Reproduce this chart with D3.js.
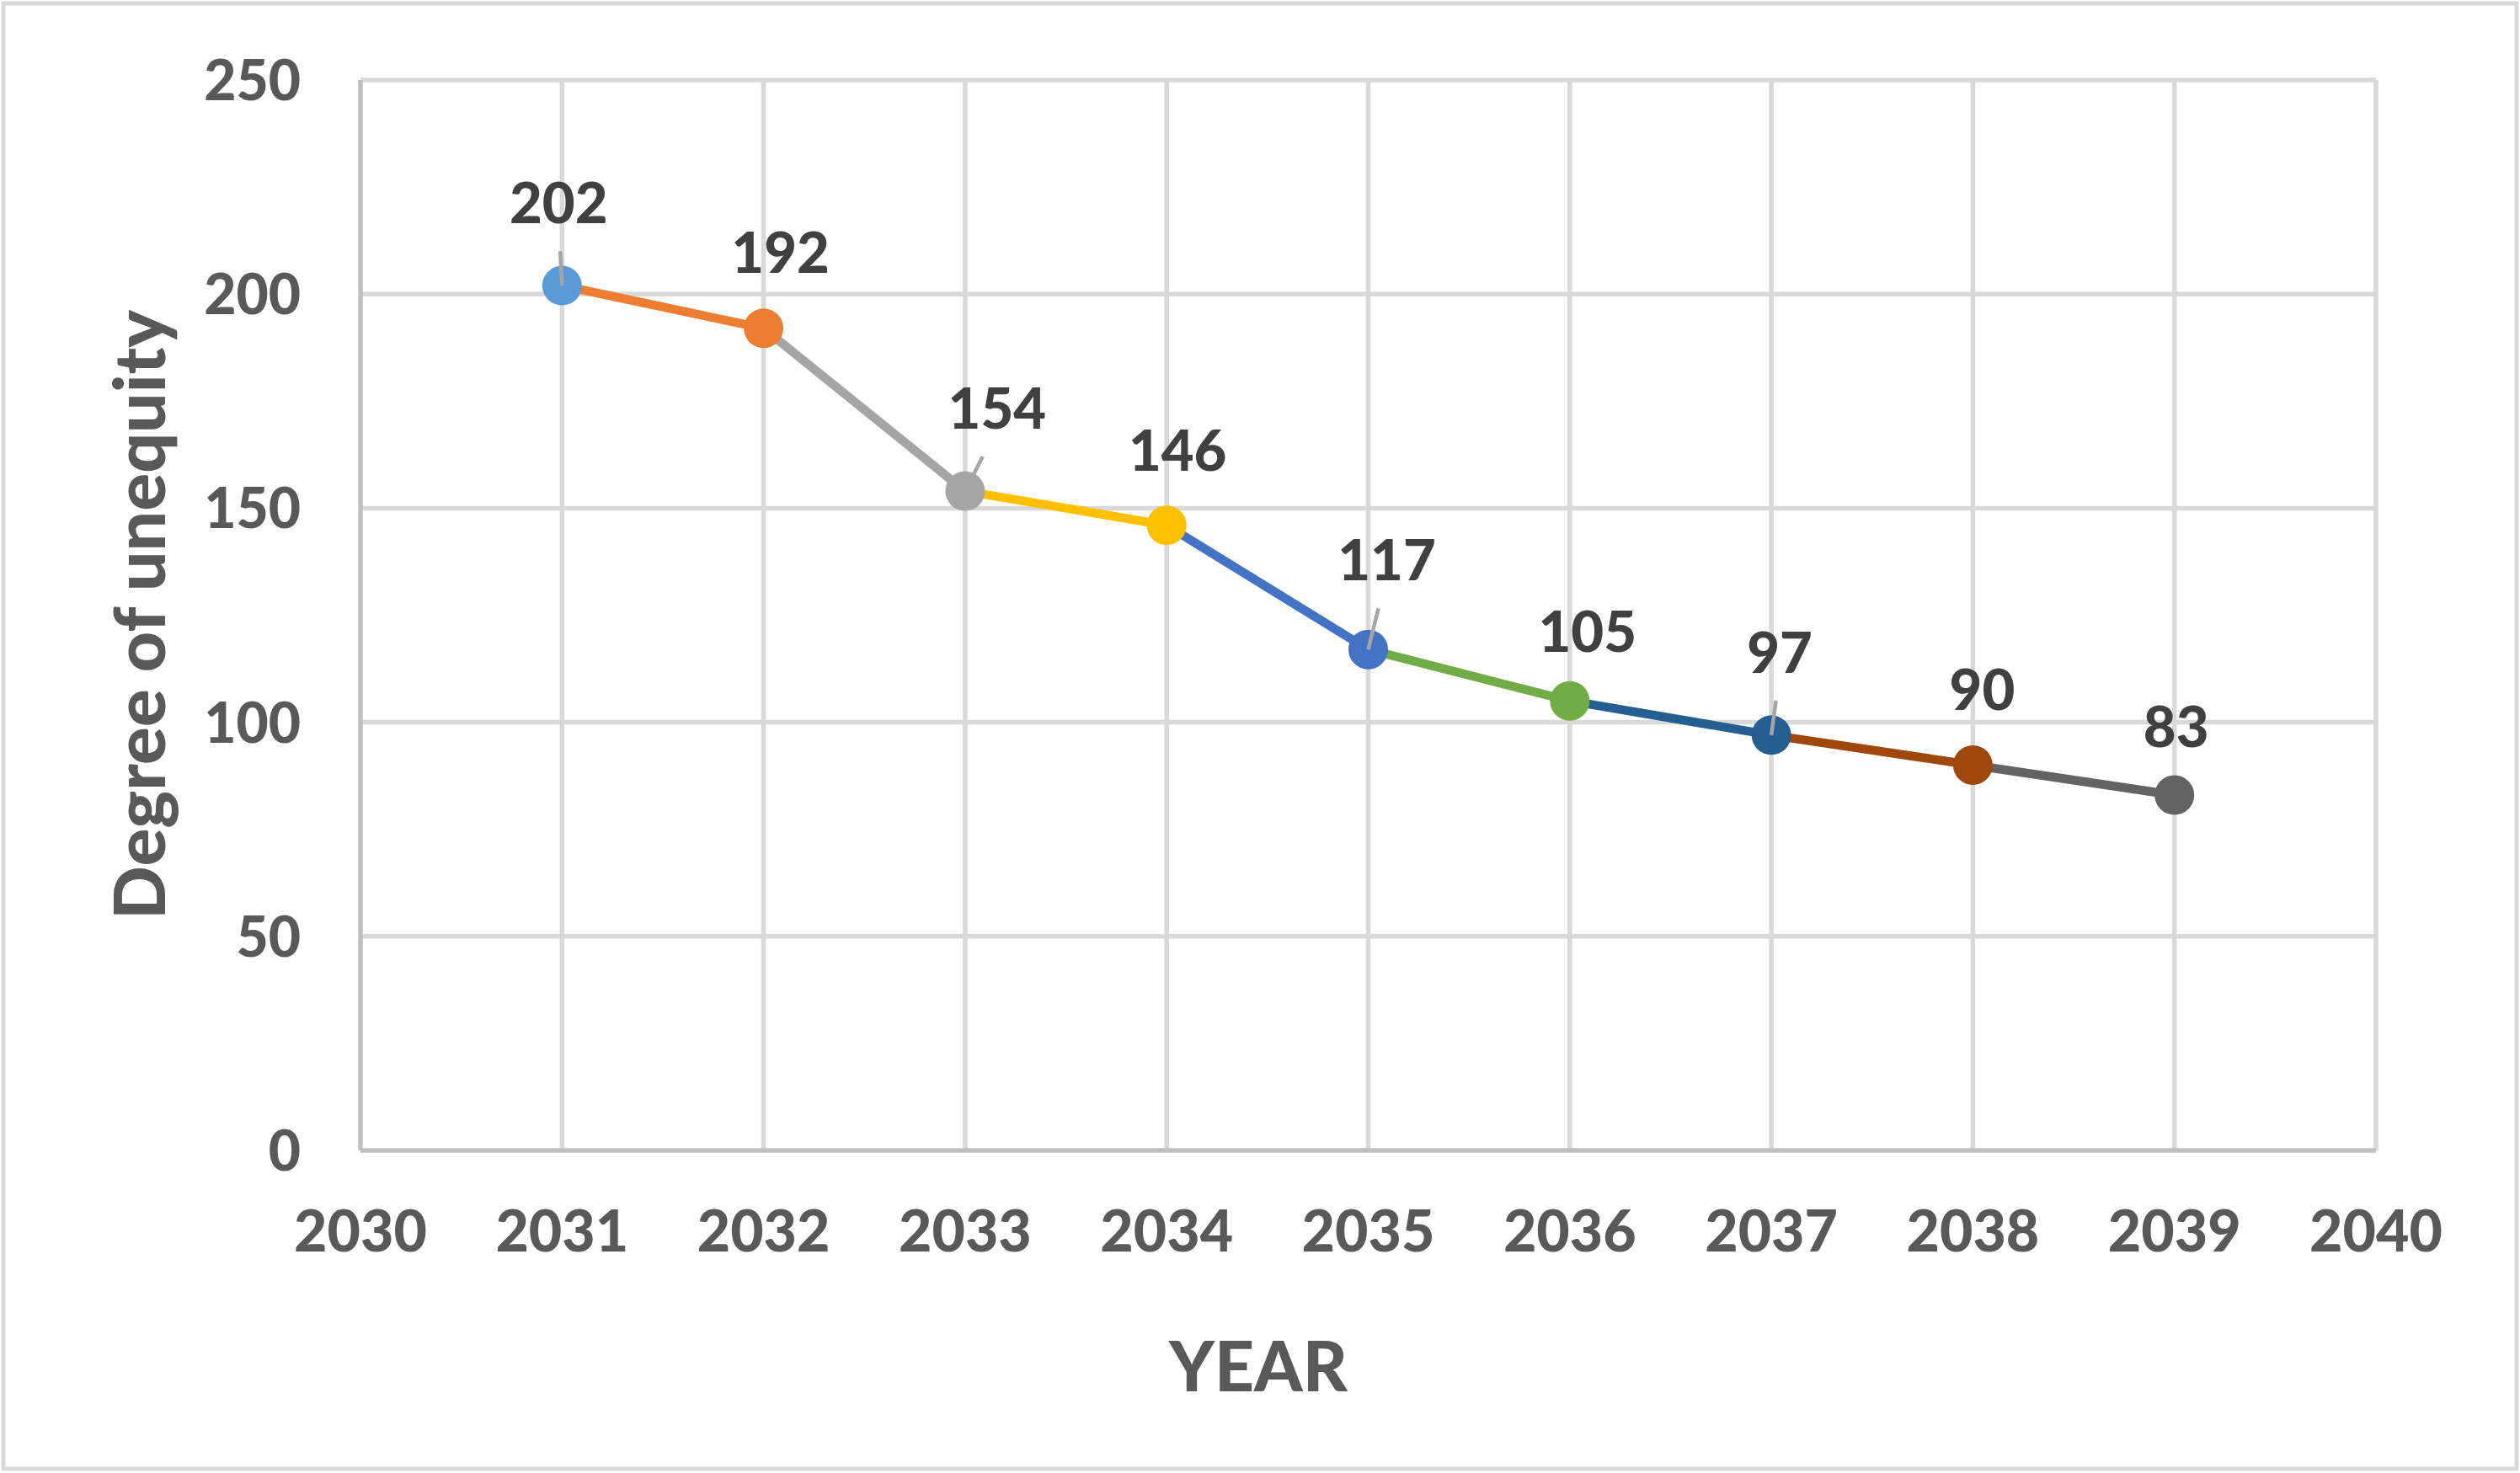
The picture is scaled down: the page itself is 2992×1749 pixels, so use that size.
<!DOCTYPE html>
<html>
<head>
<meta charset="utf-8">
<script src="https://cdn.jsdelivr.net/npm/d3@7"></script>
<style>
  body { margin: 0; background: #fff; }
  text { font-family: Lato, "Open Sans", sans-serif; font-weight: 900; }
</style>
</head>
<body>
<script>
// data
var years = [2031, 2032, 2033, 2034, 2035, 2036, 2037, 2038, 2039];
var values = [202, 192, 154, 146, 117, 105, 97, 90, 83];
var pointColors = ["#5B9BD5", "#ED7D31", "#A5A5A5", "#FFC000", "#4472C4", "#70AD47", "#255E91", "#9E480E", "#636363"];
var xTicks = [2030, 2031, 2032, 2033, 2034, 2035, 2036, 2037, 2038, 2039, 2040];
var yTicks = [0, 50, 100, 150, 200, 250];

// label nudges (px) as placed in the original chart, and which ones got leader lines
var labelDx = [-4, 20, 38, 13, 22, 21, 10, 11, 2];
var labelDy = [-74, -66, -74, -65, -82, -58, -74, -65, -57];
var hasLeader = [true, false, true, false, true, false, true, false, false];

var W = 2992, H = 1749;
var svg = d3.select("body").append("svg").attr("width", W).attr("height", H);

// chart frame
svg.append("rect").attr("x", 4).attr("y", 4).attr("width", W - 8).attr("height", H - 9)
  .style("fill", "#fff").style("stroke", "#d9d9d9").style("stroke-width", 5);

var x = d3.scaleLinear().domain([2030, 2040]).range([428, 2821]);
var y = d3.scaleLinear().domain([0, 250]).range([1366, 95]);

// grid
svg.append("g").selectAll("line").data(xTicks.slice(1)).enter().append("line")
  .attr("x1", x).attr("x2", x).attr("y1", y(0)).attr("y2", y(250))
  .style("stroke", "#d9d9d9").style("stroke-width", 5.5);
svg.append("g").selectAll("line").data(yTicks.slice(1)).enter().append("line")
  .attr("x1", x(2030)).attr("x2", x(2040)).attr("y1", y).attr("y2", y)
  .style("stroke", "#d9d9d9").style("stroke-width", 5.5);

// axis lines
svg.append("line").attr("x1", x(2030)).attr("x2", x(2030)).attr("y1", y(0)).attr("y2", y(250))
  .style("stroke", "#bfbfbf").style("stroke-width", 5.5);
svg.append("line").attr("x1", x(2030)).attr("x2", x(2040)).attr("y1", y(0)).attr("y2", y(0))
  .style("stroke", "#bfbfbf").style("stroke-width", 5.5);

// tick labels
svg.append("g").selectAll("text").data(yTicks).enter().append("text")
  .attr("x", 357).attr("y", function(d) { return y(d) + 24; })
  .attr("text-anchor", "end").style("font-size", "66px").style("fill", "#595959")
  .text(String);
svg.append("g").selectAll("text").data(xTicks).enter().append("text")
  .attr("x", x).attr("y", y(0) + 120)
  .attr("text-anchor", "middle").style("font-size", "68px").style("fill", "#595959")
  .text(String);

// axis titles
svg.append("text").attr("x", 1494).attr("y", 1652).attr("text-anchor", "middle")
  .style("font-size", "82px").style("fill", "#595959").text("YEAR");
svg.append("text").attr("transform", "translate(196,730) rotate(-90)").attr("text-anchor", "middle")
  .style("font-size", "84px").style("fill", "#595959").text("Degree of unequity");

// line segments, each coloured like the point it ends at
var pts = years.map(function(d, i) { return [x(d), y(values[i])]; });
var line = d3.line();
svg.append("g").selectAll("path").data(pts.slice(1)).enter().append("path")
  .attr("d", function(d, i) { return line([pts[i], d]); })
  .style("fill", "none").style("stroke-width", 10.5).style("stroke-linecap", "butt")
  .style("stroke", function(d, i) { return pointColors[i + 1]; });

// markers
svg.append("g").selectAll("circle").data(years).enter().append("circle")
  .attr("cx", x).attr("cy", function(d, i) { return y(values[i]); }).attr("r", 23.5)
  .style("fill", function(d, i) { return pointColors[i]; });

// leader lines
svg.append("g").selectAll("line").data(years.filter(function(d, i) { return hasLeader[i]; })).enter()
  .append("line")
  .attr("x1", x).attr("y1", function(d) { return y(values[years.indexOf(d)]); })
  .attr("x2", function(d) { return x(d) + labelDx[years.indexOf(d)] * 0.55; })
  .attr("y2", function(d) { return y(values[years.indexOf(d)]) + labelDy[years.indexOf(d)] + 33; })
  .style("stroke", "#a6a6a6").style("stroke-width", 4.5);

// data labels
svg.append("g").selectAll("text").data(years).enter().append("text")
  .attr("x", function(d, i) { return x(d) + labelDx[i]; })
  .attr("y", function(d, i) { return y(values[i]) + labelDy[i]; })
  .attr("text-anchor", "middle").style("font-size", "67px").style("fill", "#404040")
  .text(function(d, i) { return values[i]; });
</script>
</body>
</html>
